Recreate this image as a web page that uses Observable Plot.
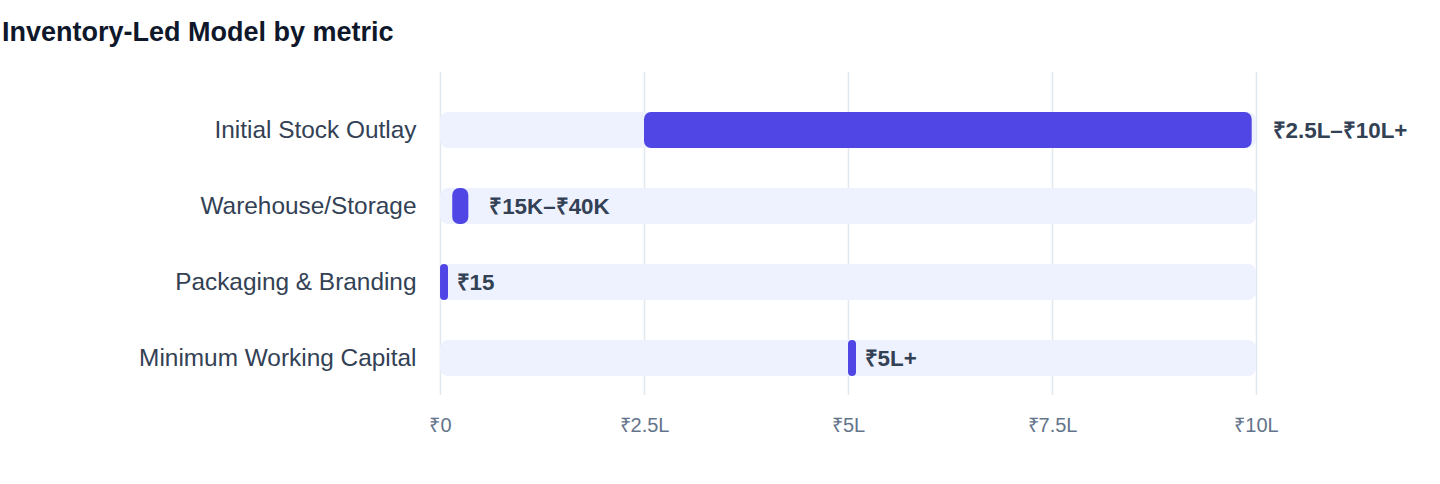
<!DOCTYPE html>
<html>
<head>
<meta charset="utf-8">
<script src="https://cdn.jsdelivr.net/npm/d3@7"></script>
<script src="https://cdn.jsdelivr.net/npm/@observablehq/plot@0.6"></script>
<style>
  html, body { margin: 0; padding: 0; background: #ffffff; }
  body { width: 1440px; height: 484px; overflow: hidden; font-family: "Liberation Sans", Arial, Helvetica, sans-serif; }
  #title { position: relative; height: 56px; }
  #title span { position: absolute; left: 2px; top: 19px; line-height: 27px; font-size: 27px; font-weight: bold; color: #0f172a; white-space: nowrap; }
  #chart svg { display: block; }
</style>
</head>
<body>
<div id="title"><span>Inventory-Led Model by metric</span></div>
<div id="chart"></div>
<script>
const metrics = ["Initial Stock Outlay", "Warehouse/Storage", "Packaging & Branding", "Minimum Working Capital"];
const lows = [250000, 15000, 15, 500000];
const highs = [1000000, 40000, 15, 500000];
const valueLabels = ["₹2.5L–₹10L+", "₹15K–₹40K", "₹15", "₹5L+"];
const xMax = 1000000;
const xTicks = [0, 250000, 500000, 750000, 1000000];
const xTickLabels = ["₹0", "₹2.5L", "₹5L", "₹7.5L", "₹10L"];

const rows = metrics.map((m, i) => ({metric: m, low: lows[i], high: highs[i], label: valueLabels[i]}));

const chart = Plot.plot({
  width: 1440,
  height: 428,
  marginLeft: 440,
  marginRight: 184,
  marginTop: 16,
  marginBottom: 89,
  style: {fontFamily: '"Liberation Sans", Arial, Helvetica, sans-serif', background: "#ffffff"},
  x: {domain: [0, xMax]},
  y: {domain: metrics, range: [36, 340], padding: 0},
  marks: [
    Plot.ruleX(xTicks, {stroke: "#e2e8f0", strokeWidth: 1.5}),
    Plot.barX(rows, {y: "metric", x1: () => 0, x2: () => xMax, fill: "#eef2ff", insetTop: 20, insetBottom: 20, rx: 8}),
    Plot.barX(rows.filter(d => d.low !== d.high), {y: "metric", x1: "low", x2: "high", fill: "#4f46e5", insetTop: 20, insetBottom: 20, insetRight: 4.3, rx: 7}),
    Plot.barX(rows.filter(d => d.low === d.high), {y: "metric", x1: "low", x2: "high", fill: "#4f46e5", insetTop: 20, insetBottom: 20, insetRight: -8, rx: 4}),
    Plot.text(rows, {y: "metric", x: "high", text: "label", dx: 16, textAnchor: "start", fontSize: 22.4, fontWeight: "bold", fill: "#334155"}),
    Plot.axisY({tickSize: 0, tickPadding: 24, fontSize: 24.4, fill: "#334155", label: null}),
    Plot.axisX({ticks: xTicks, tickFormat: d => xTickLabels[xTicks.indexOf(d)], tickSize: 0, tickPadding: 22, fontSize: 20, fill: "#64748b", label: null})
  ]
});
document.getElementById("chart").appendChild(chart);
</script>
</body>
</html>
